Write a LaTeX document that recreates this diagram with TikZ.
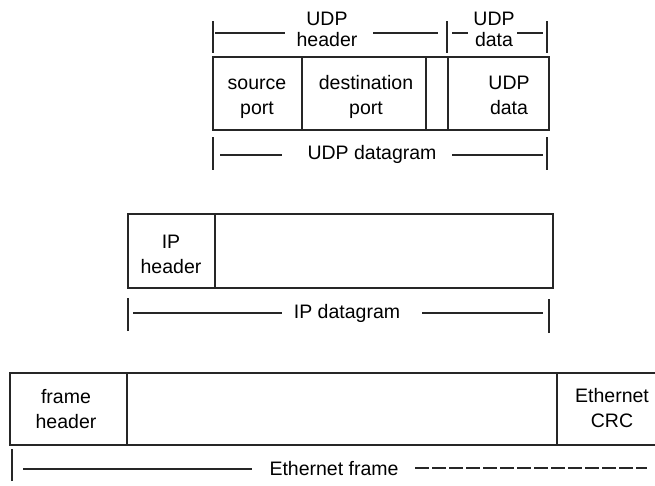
\documentclass[tikz,border=0pt]{standalone}
\usepackage{fontspec}
\setmainfont{Liberation Sans}
\begin{document}
\begin{tikzpicture}[x=1pt,y=-1pt,
  rule/.style={line width=1.3pt,black!85},
  label/.style={inner sep=0pt,align=center,anchor=base,font=\fontsize{19.5}{25}\selectfont},
  toplabel/.style={label,font=\fontsize{19.5}{21}\selectfont}]
\useasboundingbox (0,0) rectangle (655,486);

% ---- UDP datagram ----
\draw[rule] (213,57) rectangle (549,130);
\draw[rule] (302,57) -- (302,130) (426,57) -- (426,130) (448,57) -- (448,130);
\node[label] (src) at (257,115) {source\\port};
\node[label] (dst) at (366,115) {destination\\port};
\node[label] (udpd) at (509,115) {UDP\\data};

% brackets above the UDP datagram
\coordinate (th0) at (213,33);
\coordinate (th1) at (447,33);
\coordinate (th2) at (547,33);
\draw[rule] ([yshift=-20]th0) -- ([yshift=12]th0);
\draw[rule] ([yshift=-20]th1) -- ([yshift=12]th1);
\draw[rule] ([yshift=-20]th2) -- ([yshift=12]th2);
\node[toplabel] (uh) at (327,47) {UDP\\header};
\node[toplabel] (ud) at (494,47) {UDP\\data};
\draw[rule] (215,33) -- (285,33) (373,33) -- (438,33);
\draw[rule] (452,33) -- (468,33) (517,33) -- (543,33);

% bracket below the UDP datagram
\coordinate (ub0) at (213,155);
\coordinate (ub1) at (547,155);
\draw[rule] ([yshift=-15]ub0) -- ([yshift=18]ub0);
\draw[rule] ([yshift=-15]ub1) -- ([yshift=18]ub1);
\node[label] (udg) at (372,160) {UDP datagram};
\draw[rule] (220,155) -- (282,155) (452,155) -- (543,155);

% ---- IP datagram ----
\draw[rule] (128,214) rectangle (553,288);
\draw[rule] (215,214) -- (215,288);
\node[label] (iph) at (171,273) {IP\\header};
\coordinate (ib0) at (128,313);
\coordinate (ib1) at (549,313);
\draw[rule] ([yshift=-18]ib0) -- ([yshift=15]ib0);
\draw[rule] ([yshift=-20]ib1) -- ([yshift=14]ib1);
\node[label] (ipd) at (347,318) {IP datagram};
\draw[rule] (133,313) -- (282,313) (422,313) -- (543,313);

% ---- Ethernet frame ----
\draw[rule] (660,373) -- (10,373) -- (10,445) -- (660,445);
\draw[rule] (127,373) -- (127,445) (557,373) -- (557,445);
\node[label] (fh) at (66,428) {frame\\header};
\node[label] (crc) at (612,427) {Ethernet\\CRC};
\coordinate (eb0) at (12,469);
\draw[rule] ([yshift=-12]eb0) -- ([yshift=20]eb0);
\node[label] (ef) at (334,475) {Ethernet frame};
\draw[rule] (23,469) -- (252,469);
\draw[rule,dash pattern=on 14pt off 3pt] (415,468) -- (647,468);
\end{tikzpicture}
\end{document}
